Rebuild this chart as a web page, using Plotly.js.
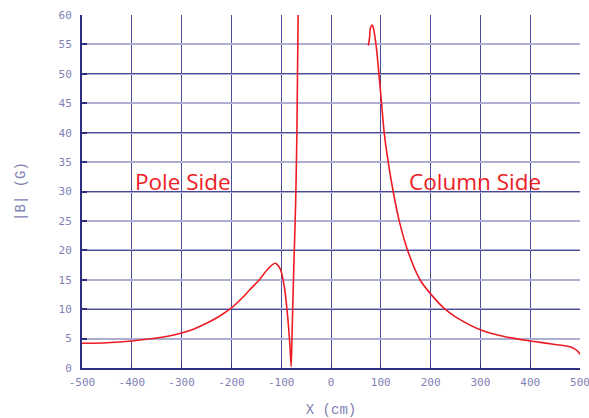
<!DOCTYPE html>
<html><head><meta charset="utf-8">
<script src="https://cdn.plot.ly/plotly-3.0.1.min.js"></script>
<style>html,body{margin:0;padding:0;background:#fff}#chart{width:589px;height:418px}</style>
</head><body><div id="chart"></div>
<script>
// Pole side field (X in cm, |B| in G)
const poleX = [-500,-450,-400,-350,-325,-300,-275,-250,-225,-200,-175,-163,-143,-125,-112,-105,-100,-95,-92,-88,-85.3,-82,-80,-78,-76,-73.7,-71,-68.5,-66,-64];
const poleB = [4.2,4.3,4.6,5.1,5.45,5.95,6.65,7.6,8.75,10.2,12.2,13.3,15.1,17.0,17.8,17.3,16.4,14.4,12.8,9.6,7.1,3.2,0.2,6.5,13,20,28,40,60,70];
// Column side field
const columnX = [75,77.5,79,83,85.6,91.6,96.2,101.6,106.8,114.9,124.9,137,153.8,178.7,200,229,250,300,350,400,450,480,490,497,500];
const columnB = [54.8,56.2,57.8,58.3,57.6,54.1,50.0,44.9,40.0,35.0,30.0,25.0,20.0,15.0,12.6,10.0,8.7,6.5,5.3,4.6,4.0,3.6,3.2,2.7,2.3];
// Tick labels
const xTickVals = [-500,-400,-300,-200,-100,0,100,200,300,400,500];
const xTickText = ["-500","-400","-300","-200","-100","0","100","200","300","400","500"];
const yTickVals = [0,5,10,15,20,25,30,35,40,45,50,55,60];
const yTickText = yTickVals.map(String);
const yMajorVals = [0,10,20,30,40,50,60];
// Labels
const labelText = ["Pole Side","Column Side"];
const labelX = [-297,290];
const labelY = [31.7,31.7];

const red = '#ee1c25';
const tickCol = '#7f7fb5';
const traces = [
  {x: poleX, y: poleB, type:'scatter', mode:'lines', line:{color:red, width:1.6, shape:'spline', smoothing:0.7}, hoverinfo:'skip'},
  {x: columnX, y: columnB, type:'scatter', mode:'lines', line:{color:red, width:1.6, shape:'spline', smoothing:0.7}, hoverinfo:'skip'},
  {x: [-500,500], y:[-10,-10], yaxis:'y2', type:'scatter', mode:'lines', line:{width:0}, showlegend:false, hoverinfo:'skip'}
];
const layout = {
  width:589, height:418,
  margin:{l:82, r:9, t:15, b:50},
  paper_bgcolor:'#fff', plot_bgcolor:'#fff',
  showlegend:false,
  xaxis:{range:[-500,500], tickvals:xTickVals, ticktext:xTickText, ticklabeloverflow:'allow', ticklabelstandoff:3,
    showgrid:true, gridcolor:'#4a4a9a', gridwidth:1, zeroline:false,
    showline:true, linecolor:'#2e2e80', linewidth:2, ticks:'inside', ticklen:4, tickcolor:'#2e2e80',
    tickfont:{family:'DejaVu Sans Mono', size:11, color:tickCol},
    title:{text:'X (cm)', font:{family:'Liberation Mono', size:14, color:tickCol}, standoff:16}},
  yaxis:{range:[0,60], tickvals:yTickVals, ticktext:yTickText, ticklabelstandoff:6,
    showgrid:true, gridcolor:'#aeaed2', gridwidth:2, zeroline:false,
    showline:true, linecolor:'#2e2e80', linewidth:2, ticks:'inside', ticklen:5, tickwidth:2, tickcolor:'#2e2e80',
    tickfont:{family:'DejaVu Sans Mono', size:11, color:tickCol},
    title:{text:'|B| (G)', font:{family:'Liberation Mono', size:14, color:tickCol}, standoff:30}},
  yaxis2:{range:[0,60], overlaying:'y', tickvals:yMajorVals, showticklabels:false,
    showgrid:true, gridcolor:'#4a4a9a', gridwidth:1, zeroline:false, showline:false, ticks:''},
  annotations: labelText.map((t,i)=>({x:labelX[i], y:labelY[i], xref:'x', yref:'y', text:t, showarrow:false,
    font:{family:'Open Sans', size:22.5, color:red}}))
};
Plotly.newPlot('chart', traces, layout, {staticPlot:true, displayModeBar:false});
</script></body></html>
